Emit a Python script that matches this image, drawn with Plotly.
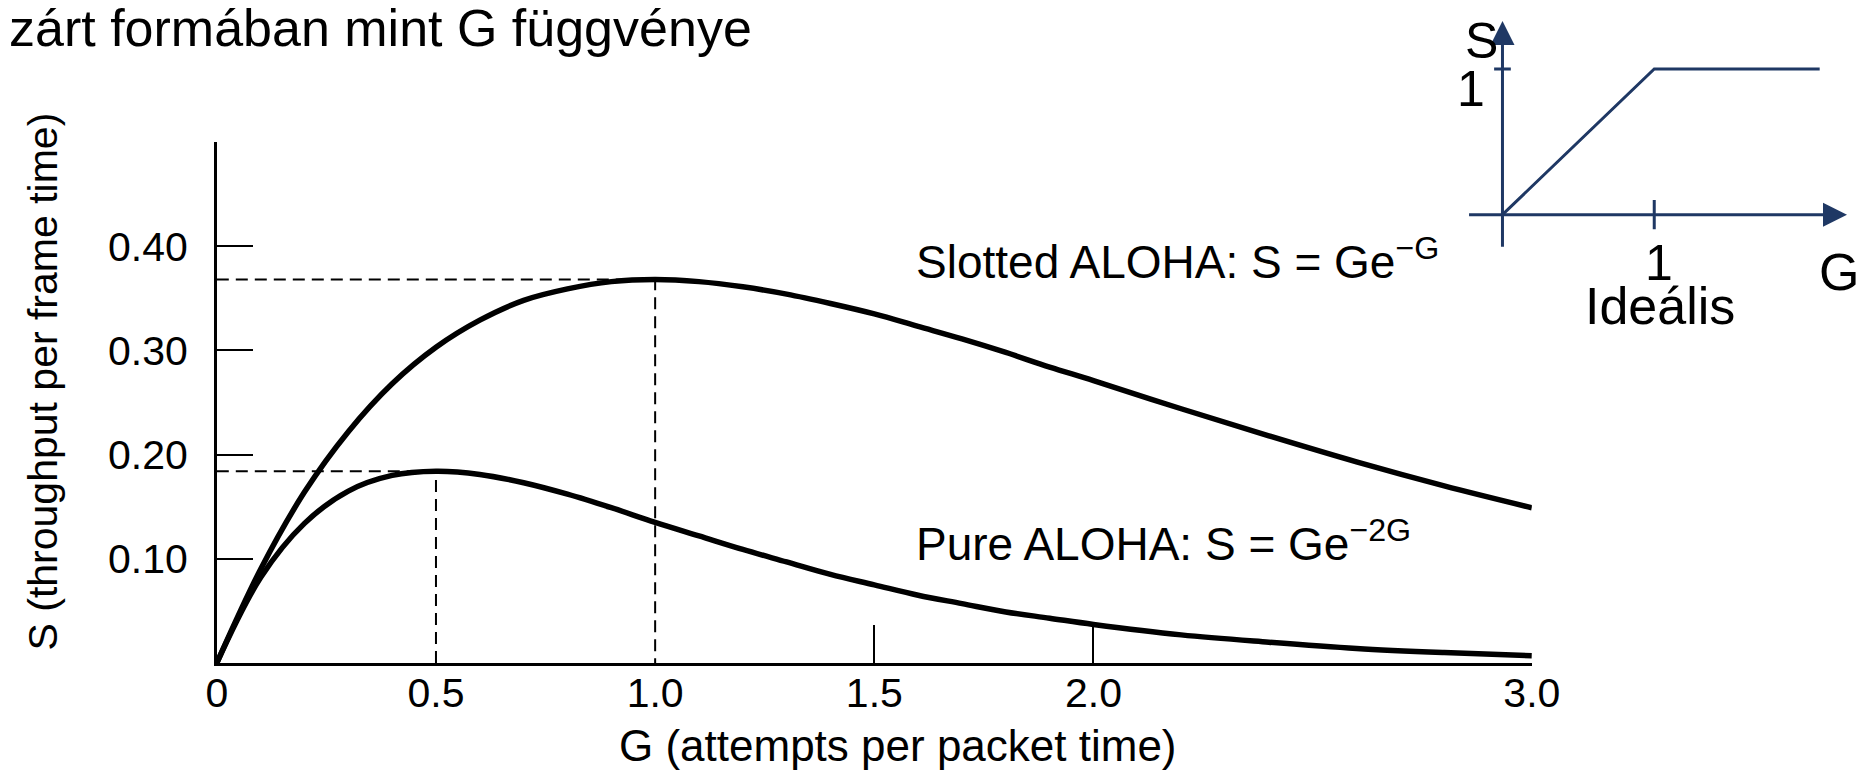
import plotly.graph_objects as go

W, H = 1874, 774

# ---- data ----
G_vals = [0.0, 0.1, 0.2, 0.3, 0.4, 0.5, 0.6, 0.7, 0.8, 0.9, 1.0, 1.1, 1.2, 1.3, 1.4,
          1.5, 1.6, 1.7, 1.8, 1.9, 2.0, 2.2, 2.4, 2.6, 2.8, 3.0]
slotted_S = [0.0, 0.090, 0.164, 0.222, 0.268, 0.303, 0.329, 0.348, 0.359, 0.366, 0.368,
             0.366, 0.361, 0.354, 0.345, 0.335, 0.323, 0.311, 0.298, 0.284, 0.271,
             0.244, 0.218, 0.193, 0.170, 0.149]
pure_S = [0.0, 0.082, 0.134, 0.165, 0.180, 0.184, 0.181, 0.173, 0.162, 0.149, 0.135,
          0.122, 0.109, 0.097, 0.085, 0.075, 0.065, 0.057, 0.049, 0.043, 0.037,
          0.027, 0.020, 0.014, 0.010, 0.007]

peak_G = [0.5, 1.0]          # pure, slotted
peak_S = [0.184, 0.368]

x_tickvals = [0, 0.5, 1.0, 1.5, 2.0, 3.0]
x_ticktext = ["0", "0.5", "1.0", "1.5", "2.0", "3.0"]
x_marks = [1.5, 2.0, 3.0]
y_tickvals = [0.10, 0.20, 0.30, 0.40]
y_ticktext = ["0.10", "0.20", "0.30", "0.40"]

ideal_G = [0, 1, 2.09]
ideal_S = [0, 1, 1]

NAVY = "#1F3864"
FONT = "Liberation Sans, Arial, sans-serif"

fig = go.Figure()

# dashed guides
for g, s in zip(peak_G, peak_S):
    fig.add_trace(go.Scatter(x=[0, g, g], y=[s, s, 0], mode="lines",
                             line=dict(color="black", width=2, dash="12px,7px"),
                             hoverinfo="skip", showlegend=False))

fig.add_trace(go.Scatter(x=G_vals, y=slotted_S, mode="lines",
                         line=dict(color="black", width=5.5, shape="spline"),
                         showlegend=False))
fig.add_trace(go.Scatter(x=G_vals, y=pure_S, mode="lines",
                         line=dict(color="black", width=5.5, shape="spline"),
                         showlegend=False))

# inset ideal curve
fig.add_trace(go.Scatter(x=ideal_G, y=ideal_S, mode="lines", xaxis="x3", yaxis="y3",
                         line=dict(color=NAVY, width=3), showlegend=False))
# inset ticks
fig.add_trace(go.Scatter(x=[1, 1], y=[-0.1, 0.1], mode="lines", xaxis="x3", yaxis="y3",
                         line=dict(color=NAVY, width=3), showlegend=False))
fig.add_trace(go.Scatter(x=[-0.055, 0.055], y=[1, 1], mode="lines", xaxis="x3", yaxis="y3",
                         line=dict(color=NAVY, width=3), showlegend=False))

# tick-mark helper axis (invisible anchor trace)
fig.add_trace(go.Scatter(x=[0], y=[0], xaxis="x2", yaxis="y", mode="markers",
                         marker=dict(opacity=0), hoverinfo="skip", showlegend=False))

x0p, x1p = 202, 1545
y0p, y1p = 655, 134
fig.update_layout(
    width=W, height=H, margin=dict(l=0, r=0, t=0, b=0),
    paper_bgcolor="white", plot_bgcolor="white",
    font=dict(family=FONT, color="black"),
    xaxis=dict(domain=[x0p / W, x1p / W], range=[0, 3], showgrid=False, zeroline=False,
               showline=True, linecolor="black", linewidth=2.5,
               tickmode="array", tickvals=x_tickvals, ticktext=x_ticktext,
               ticks="", tickfont=dict(size=41, family=FONT), ticklabelstandoff=-8),
    xaxis2=dict(domain=[x0p / W, x1p / W], range=[0, 3], overlaying="x", showgrid=False,
                zeroline=False, showline=False, tickmode="array", tickvals=x_marks,
                ticks="inside", ticklen=38, tickwidth=2, tickcolor="black",
                showticklabels=False, anchor="y"),
    yaxis=dict(domain=[1 - y0p / H, 1 - y1p / H], range=[0, 0.5], showgrid=False,
               zeroline=False, showline=True, linecolor="black", linewidth=2.5,
               tickmode="array", tickvals=y_tickvals, ticktext=y_ticktext,
               ticks="inside", ticklen=36, tickwidth=2, tickcolor="black",
               tickfont=dict(size=41, family=FONT), ticklabelstandoff=18),
    xaxis3=dict(domain=[1468.5 / W, 1871.5 / W], range=[-0.3, 2.3], visible=False,
                anchor="y3"),
    yaxis3=dict(domain=[1 - 337.8 / H, 1 - 2.7 / H], range=[-0.9, 1.4], visible=False,
                anchor="x3"),
)

ann = []
# top text
ann.append(dict(text="zárt formában mint G függvénye", xref="paper", yref="paper",
                x=-12 / W, y=1 - 20 / H, xanchor="left", yanchor="middle",
                showarrow=False, font=dict(size=52, family=FONT)))
# axis titles
ann.append(dict(text="G (attempts per packet time)", xref="paper", yref="paper",
                x=898 / W, y=1 - 737 / H, xanchor="center", yanchor="middle",
                showarrow=False, font=dict(size=44, family=FONT)))
ann.append(dict(text="S (throughput per frame time)", xref="paper", yref="paper",
                x=24 / W, y=1 - 374 / H, xanchor="center", yanchor="middle",
                textangle=-90, showarrow=False, font=dict(size=41, family=FONT)))
# curve labels
ann.append(dict(text="Slotted ALOHA: S = Ge<sup>−G</sup>", xref="x", yref="y",
                x=1.59, y=0.388, xanchor="left", yanchor="middle",
                showarrow=False, font=dict(size=46, family=FONT)))
ann.append(dict(text="Pure ALOHA: S = Ge<sup>−2G</sup>", xref="x", yref="y",
                x=1.59, y=0.117, xanchor="left", yanchor="middle",
                showarrow=False, font=dict(size=46, family=FONT)))
# inset axes with arrows
ann.append(dict(x=2.27, y=0, ax=-0.23, ay=0, xref="x3", yref="y3", axref="x3", ayref="y3",
                showarrow=True, arrowhead=2, arrowsize=1.6, arrowwidth=3, arrowcolor=NAVY,
                text=""))
ann.append(dict(x=0, y=1.33, ax=0, ay=-0.23, xref="x3", yref="y3", axref="x3", ayref="y3",
                showarrow=True, arrowhead=2, arrowsize=1.6, arrowwidth=3, arrowcolor=NAVY,
                text=""))
# inset labels
for txt, gx, sy, sz in [("S", -0.14, 1.19, 50), ("1", -0.21, 0.86, 50),
                        ("1", 1.03, -0.33, 50), ("G", 2.22, -0.39, 52),
                        ("Ideális", 1.04, -0.63, 52)]:
    ann.append(dict(text=txt, x=gx, y=sy, xref="x3", yref="y3", showarrow=False,
                    xanchor="center", yanchor="middle", font=dict(size=sz, family=FONT)))

fig.update_layout(annotations=ann)
fig.write_html("out.html")
